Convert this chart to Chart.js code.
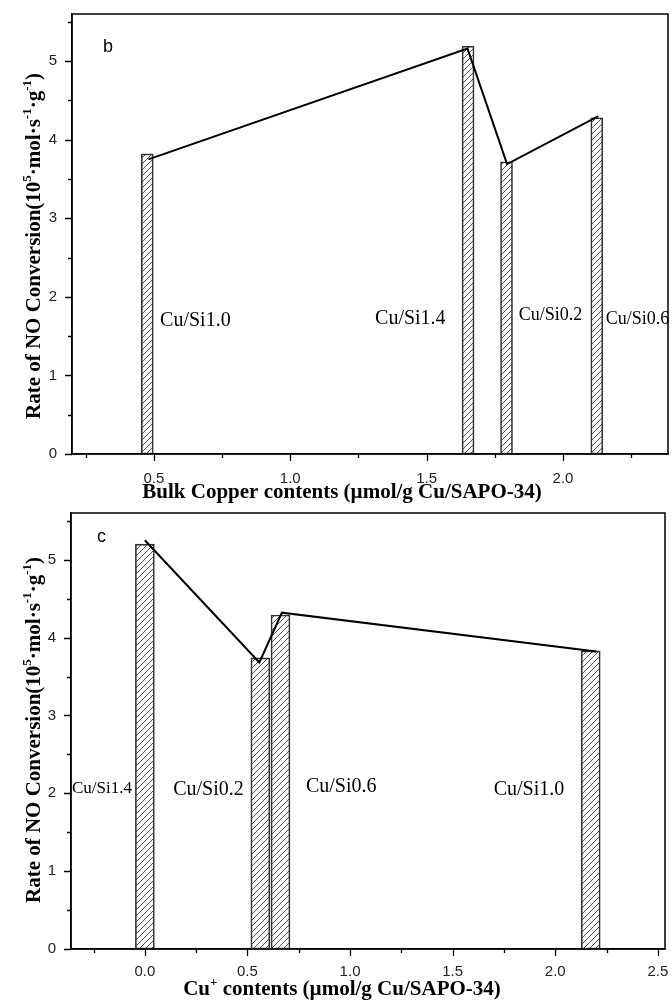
<!DOCTYPE html>
<html>
<head>
<meta charset="utf-8">
<script src="https://cdn.jsdelivr.net/npm/chart.js@4.4.1/dist/chart.umd.min.js"></script>
<style>
  html, body { margin: 0; padding: 0; background: #fff; }
  #wrap { position: relative; width: 672px; height: 1003px; overflow: hidden; }
  canvas { position: absolute; left: 0; }
  #chartB { top: 0; }
  #chartC { top: 500px; }
</style>
</head>
<body>
<div id="wrap">
  <canvas id="chartB" width="672" height="510"></canvas>
  <canvas id="chartC" width="672" height="503"></canvas>
</div>
<script>
// Panel b: rate of NO conversion against bulk copper content
const samplesB   = ['Cu/Si1.0', 'Cu/Si1.4', 'Cu/Si0.2', 'Cu/Si0.6'];
const bulkCopper = [0.476, 1.652, 1.793, 2.124];
const rateB      = [3.82, 5.19, 3.72, 4.28];
const trendXB    = [0.48, 1.65, 1.795, 2.13];
const trendYB    = [3.75, 5.16, 3.69, 4.30];

// Panel c: rate of NO conversion against Cu+ content
const samplesC = ['Cu/Si1.4', 'Cu/Si0.2', 'Cu/Si0.6', 'Cu/Si1.0'];
const cuPlus   = [0.0, 0.563, 0.661, 2.173];
const rateC    = [5.20, 3.74, 4.29, 3.83];
const trendXC  = [0.0, 0.558, 0.668, 2.2];
const trendYC  = [5.25, 3.68, 4.32, 3.82];

// Tick values
const xMajorB = [0.5, 1.0, 1.5, 2.0];
const xMinorB = [0.25, 0.75, 1.25, 1.75, 2.25];
const xMajorC = [0.0, 0.5, 1.0, 1.5, 2.0, 2.5];
const xMinorC = [-0.25, 0.25, 0.75, 1.25, 1.75, 2.25];
const yMajor  = [0, 1, 2, 3, 4, 5];
const yMinor  = [0.5, 1.5, 2.5, 3.5, 4.5, 5.5];

const SERIF = '"Liberation Serif", "Times New Roman", serif';
const SANS  = '"Liberation Sans", Arial, sans-serif';
const MAJOR_LEN = 7, MINOR_LEN = 4;

const yTitleParts = [
  { t: 'Rate of NO Conversion(10' }, { t: '5', sup: true },
  { t: '\u00B7mol\u00B7s' }, { t: '-1', sup: true },
  { t: '\u00B7g' }, { t: '-1', sup: true }, { t: ')' }
];

function hatchPattern(ctx) {
  const c = document.createElement('canvas');
  c.width = 6; c.height = 6;
  const g = c.getContext('2d');
  g.strokeStyle = '#333';
  g.lineWidth = 0.85;
  g.beginPath();
  g.moveTo(0, 6); g.lineTo(6, 0);
  g.moveTo(-1, 1); g.lineTo(1, -1);
  g.moveTo(5, 7); g.lineTo(7, 5);
  g.stroke();
  return ctx.createPattern(c, 'repeat');
}

// draws a run of text pieces, superscripts raised and smaller, centred on (0,0)
function drawRich(ctx, parts, size) {
  const base = 'bold ' + size + 'px ' + SERIF;
  const sup = 'bold ' + Math.round(size * 0.62) + 'px ' + SERIF;
  let total = 0;
  parts.forEach(p => { ctx.font = p.sup ? sup : base; p.w = ctx.measureText(p.t).width; total += p.w; });
  let x = -total / 2;
  ctx.textBaseline = 'alphabetic';
  ctx.textAlign = 'left';
  parts.forEach(p => {
    ctx.font = p.sup ? sup : base;
    ctx.fillText(p.t, x, p.sup ? -size * 0.42 : 0);
    x += p.w;
  });
}

const decorations = {
  id: 'decorations',
  afterDatasetsDraw(chart, args, o) {
    const ctx = chart.ctx;
    const xs = chart.scales.x, ys = chart.scales.y;
    const a = chart.chartArea;
    ctx.save();
    // tick marks, pointing outward
    ctx.strokeStyle = '#000';
    ctx.lineWidth = 1.3;
    ctx.beginPath();
    const xTick = (v, len) => {
      const px = Math.round(xs.getPixelForValue(v)) + 0.5;
      ctx.moveTo(px, a.bottom); ctx.lineTo(px, a.bottom + len);
    };
    const yTick = (v, len) => {
      const py = Math.round(ys.getPixelForValue(v)) + 0.5;
      ctx.moveTo(a.left, py); ctx.lineTo(a.left - len, py);
    };
    o.xMajor.forEach(v => xTick(v, MAJOR_LEN));
    o.xMinor.forEach(v => xTick(v, MINOR_LEN));
    yMajor.forEach(v => yTick(v, MAJOR_LEN));
    yMinor.forEach(v => yTick(v, MINOR_LEN));
    ctx.stroke();
    // frame
    ctx.lineWidth = 1.5;
    ctx.strokeRect(a.left, a.top, a.right - a.left, a.bottom - a.top);

    // sample labels
    ctx.fillStyle = '#000';
    ctx.textBaseline = 'middle';
    ctx.textAlign = 'left';
    o.labels.forEach(l => {
      ctx.font = l.size + 'px ' + SERIF;
      ctx.fillText(l.text, xs.getPixelForValue(l.x), ys.getPixelForValue(l.y));
    });

    // panel letter
    ctx.font = '18px ' + SANS;
    ctx.textBaseline = 'alphabetic';
    ctx.fillText(o.panel.text, o.panel.x, o.panel.y);

    // y title
    ctx.save();
    ctx.translate(o.yTitle.x, o.yTitle.y);
    ctx.rotate(-Math.PI / 2);
    drawRich(ctx, yTitleParts, 21);
    ctx.restore();

    // x title
    ctx.save();
    ctx.translate(o.xTitle.x, o.xTitle.y);
    drawRich(ctx, o.xTitle.parts, 21);
    ctx.restore();
    ctx.restore();
  }
};

function buildChart(id, cfg) {
  const canvas = document.getElementById(id);
  const ctx = canvas.getContext('2d');
  const axisGrid = () => ({ display: false, drawOnChartArea: false, drawTicks: false, offset: false });
  return new Chart(ctx, {
    type: 'bar',
    data: {
      datasets: [
        {
          type: 'line',
          data: cfg.trendX.map((x, i) => ({ x, y: cfg.trendY[i] })),
          borderColor: '#000', borderWidth: 2, pointRadius: 0,
          tension: 0, fill: false, order: 1
        },
        {
          type: 'bar',
          data: cfg.barX.map((x, i) => ({ x, y: cfg.barY[i] })),
          backgroundColor: hatchPattern(ctx),
          borderColor: '#333', borderWidth: 1, borderSkipped: false,
          barThickness: cfg.barPx, order: 2
        }
      ]
    },
    options: {
      responsive: false,
      animation: false,
      devicePixelRatio: 1,
      layout: { padding: cfg.padding },
      plugins: {
        legend: { display: false },
        tooltip: { enabled: false },
        decorations: Object.assign({ xMajor: cfg.xMajor }, cfg.deco)
      },
      scales: {
        x: {
          type: 'linear', min: cfg.xMin, max: cfg.xMax, offset: false,
          afterBuildTicks: s => { s.ticks = cfg.xMajor.map(v => ({ value: v })); },
          afterFit: s => { s.height = cfg.xHeight; s.paddingLeft = 0; s.paddingRight = 0; },
          grid: axisGrid(),
          border: { display: true, color: '#000', width: 1.5 },
          ticks: {
            font: { family: SANS, size: 15 }, color: '#222', padding: MAJOR_LEN + cfg.xPad,
            maxRotation: 0, autoSkip: false,
            callback: v => Number(v).toFixed(1)
          }
        },
        y: {
          type: 'linear', min: 0, max: 5.6, offset: false,
          afterBuildTicks: s => { s.ticks = yMajor.map(v => ({ value: v })); },
          afterFit: s => { s.width = cfg.yWidth; s.paddingTop = 0; s.paddingBottom = 0; },
          grid: axisGrid(),
          border: { display: true, color: '#000', width: 1.5 },
          ticks: {
            font: { family: SANS, size: 15 }, color: '#222', padding: MAJOR_LEN + 8,
            callback: v => String(v)
          }
        }
      }
    },
    plugins: [decorations]
  });
}

buildChart('chartB', {
  barX: bulkCopper, barY: rateB, trendX: trendXB, trendY: trendYB,
  xMin: 0.2, xMax: 2.385, xMajor: xMajorB, barPx: 12, xPad: 9,
  padding: { top: 14, right: 4, bottom: 0, left: 0 },
  yWidth: 72, xHeight: 56,
  deco: {
    xMinor: xMinorB, yMinor: yMinor,
    labels: [
      { text: samplesB[0], x: 0.523, y: 1.69, size: 20 },
      { text: samplesB[1], x: 1.311, y: 1.72, size: 20 },
      { text: samplesB[2], x: 1.838, y: 1.76, size: 18 },
      { text: samplesB[3], x: 2.157, y: 1.72, size: 18 }
    ],
    panel: { text: 'b', x: 103, y: 52 },
    yTitle: { x: 40, y: 246 },
    xTitle: { x: 342, y: 498, parts: [{ t: 'Bulk Copper contents (\u00B5mol/g Cu/SAPO-34)' }] }
  }
});

buildChart('chartC', {
  barX: cuPlus, barY: rateC, trendX: trendXC, trendY: trendYC,
  xMin: -0.36, xMax: 2.535, xMajor: xMajorC, barPx: 19, xPad: 7,
  padding: { top: 13, right: 7, bottom: 0, left: 0 },
  yWidth: 71, xHeight: 54,
  deco: {
    xMinor: xMinorC, yMinor: yMinor,
    labels: [
      { text: samplesC[0], x: -0.355, y: 2.06, size: 17 },
      { text: samplesC[1], x: 0.138, y: 2.04, size: 20 },
      { text: samplesC[2], x: 0.785, y: 2.08, size: 20 },
      { text: samplesC[3], x: 1.70, y: 2.04, size: 20 }
    ],
    panel: { text: 'c', x: 97, y: 42 },
    yTitle: { x: 40, y: 230 },
    xTitle: { x: 342, y: 495, parts: [{ t: 'Cu' }, { t: '+', sup: true }, { t: ' contents (\u00B5mol/g Cu/SAPO-34)' }] }
  }
});
</script>
</body>
</html>
